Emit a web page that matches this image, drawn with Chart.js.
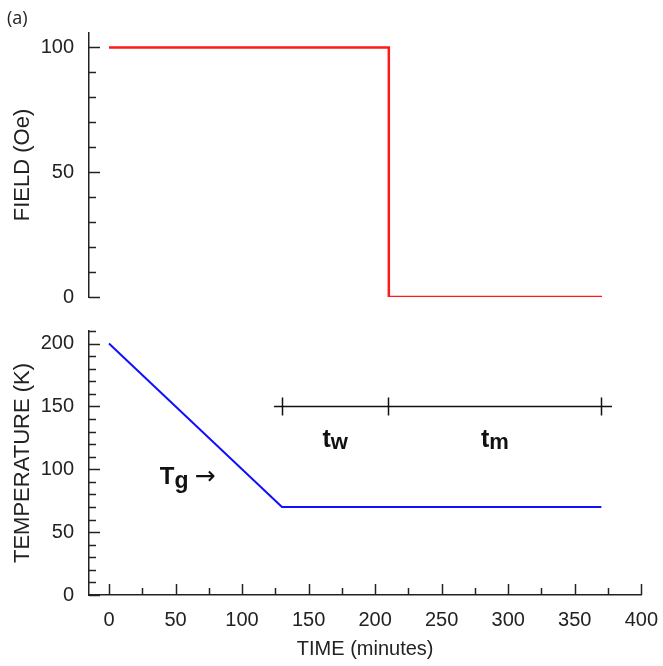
<!DOCTYPE html>
<html>
<head>
<meta charset="utf-8">
<script src="https://cdn.jsdelivr.net/npm/chart.js@4"></script>
<style>
    body { margin: 0; background: #fff; width: 663px; height: 666px; position: relative; overflow: hidden; }
    #topBox { position: absolute; left: 0; top: 0; }
    #bottomBox { position: absolute; left: 0; top: 312px; }
    #panelTag { position: absolute; left: 7px; top: 5px; font: 18px "Open Sans", sans-serif; color: #222; }
</style>
</head>
<body>
<div id="topBox"><canvas id="fieldChart" width="663" height="316"></canvas></div>
<div id="bottomBox"><canvas id="tempChart" width="663" height="354"></canvas></div>
<div id="panelTag">(a)</div>
<script>
// field step: 100 Oe until 210 min, then 0
const fieldTime = [0, 210, 210, 370];
const fieldValues = [100, 100, 0, 0];

// temperature: cool from 200 K to 70 K, then hold
const tempTime = [0, 130, 370];
const tempValues = [200, 70, 70];

const timeTicks = [0, 50, 100, 150, 200, 250, 300, 350, 400];
const fieldTicks = [0, 50, 100];
const tempTicks = [0, 50, 100, 150, 200];

// tw / tm bracket
const bracketTimes = [130, 210, 370];
const bracketSpan = [124, 378];
const bracketLevel = 150;
const bracketLabels = ["w", "m"];

const AXIS = "#222";
const FONT = "'Liberation Sans', Arial, sans-serif";

function inwardTicks(axes) {
    return {
        id: 'inwardTicks',
        afterDraw(chart) {
            const ctx = chart.ctx;
            ctx.save();
            ctx.strokeStyle = AXIS;
            ctx.lineWidth = 1.5;
            axes.forEach(a => {
                const scale = chart.scales[a.id];
                for (let v = a.from; v <= a.to + 1e-6; v += a.step) {
                    const len = a.major.includes(v) ? 11 : 7;
                    const p = Math.round(scale.getPixelForValue(v)) + 0.5;
                    ctx.beginPath();
                    if (scale.isHorizontal()) {
                        ctx.moveTo(p, chart.chartArea.bottom);
                        ctx.lineTo(p, chart.chartArea.bottom - len);
                    } else {
                        ctx.moveTo(chart.chartArea.left, p);
                        ctx.lineTo(chart.chartArea.left + len, p);
                    }
                    ctx.stroke();
                }
            });
            ctx.restore();
        }
    };
}

function subText(ctx, main, sub, cx, baseline, size, subSize, drop) {
    ctx.font = "bold " + size + "px " + FONT;
    const w1 = ctx.measureText(main).width;
    ctx.font = "bold " + subSize + "px " + FONT;
    const w2 = ctx.measureText(sub).width;
    const x0 = cx - (w1 + w2) / 2;
    ctx.font = "bold " + size + "px " + FONT;
    ctx.fillText(main, x0, baseline);
    ctx.font = "bold " + subSize + "px " + FONT;
    ctx.fillText(sub, x0 + w1, baseline + drop);
    return x0 + w1 + w2;
}

const annotations = {
    id: 'annotations',
    afterDraw(chart) {
        const ctx = chart.ctx;
        const x = chart.scales.x, y = chart.scales.y;
        ctx.save();
        ctx.strokeStyle = "#111";
        ctx.lineWidth = 1.5;
        const yb = Math.round(y.getPixelForValue(bracketLevel)) + 0.5;
        ctx.beginPath();
        ctx.moveTo(x.getPixelForValue(bracketSpan[0]), yb);
        ctx.lineTo(x.getPixelForValue(bracketSpan[1]), yb);
        bracketTimes.forEach(t => {
            const px = Math.round(x.getPixelForValue(t)) + 0.5;
            ctx.moveTo(px, yb - 9);
            ctx.lineTo(px, yb + 9);
        });
        ctx.stroke();

        ctx.fillStyle = "#111";
        ctx.textBaseline = "alphabetic";
        ctx.textAlign = "left";
        const base = y.getPixelForValue(118);
        for (let i = 0; i < bracketLabels.length; i++) {
            const mid = (bracketTimes[i] + bracketTimes[i + 1]) / 2;
            subText(ctx, "t", bracketLabels[i], x.getPixelForValue(mid), base, 25, 22, 2);
        }

        // Tg arrow
        const tgBase = y.getPixelForValue(88);
        const end = subText(ctx, "T", "g", x.getPixelForValue(49), tgBase, 24, 23, 4);
        ctx.font = "25px 'DejaVu Sans', sans-serif";
        ctx.fillText("\u2192", end + 6, tgBase);
        ctx.restore();
    }
};

const yTitleFont = { family: FONT, size: 22 };
const tickFont = { family: FONT, size: 20 };

new Chart(document.getElementById("fieldChart"), {
    type: 'scatter',
    data: {
        datasets: [{
            data: fieldTime.map((t, i) => ({ x: t, y: fieldValues[i] })),
            showLine: true,
            borderColor: "#ff1a1a",
            borderWidth: 2.5,
            pointRadius: 0,
            tension: 0
        }]
    },
    options: {
        responsive: false,
        animation: false,
        layout: { padding: { left: 0, right: 21, top: 33, bottom: 8 } },
        plugins: { legend: { display: false }, tooltip: { enabled: false } },
        scales: {
            x: { type: 'linear', min: -15, max: 400, display: false },
            y: {
                type: 'linear', min: 0, max: 105.8,
                afterBuildTicks: s => { s.ticks = fieldTicks.map(v => ({ value: v })); },
                afterFit: s => { s.width = 89; },
                grid: { display: false },
                border: { display: true, color: AXIS, width: 1.5 },
                ticks: { color: "#222", font: tickFont, padding: 7 },
                title: { display: true, text: "FIELD (Oe)", color: "#222", font: yTitleFont, padding: { top: 10, bottom: 0 } }
            }
        }
    },
    plugins: [inwardTicks([{ id: 'y', from: 0, to: 100, step: 10, major: fieldTicks }])]
});

new Chart(document.getElementById("tempChart"), {
    type: 'scatter',
    data: {
        datasets: [{
            data: tempTime.map((t, i) => ({ x: t, y: tempValues[i] })),
            showLine: true,
            borderColor: "#1010ff",
            borderWidth: 2,
            pointRadius: 0,
            tension: 0
        }]
    },
    options: {
        responsive: false,
        animation: false,
        layout: { padding: { left: 0, right: 21, top: 8, bottom: 0 } },
        plugins: { legend: { display: false }, tooltip: { enabled: false } },
        scales: {
            x: {
                type: 'linear', min: -15, max: 400,
                afterBuildTicks: s => { s.ticks = timeTicks.map(v => ({ value: v })); },
                afterFit: s => { s.height = 71; },
                grid: { display: false },
                border: { display: true, color: AXIS, width: 1.5 },
                ticks: { color: "#222", font: tickFont, padding: 5, maxRotation: 0 },
                title: { display: true, text: "TIME (minutes)", color: "#222", font: { family: FONT, size: 20 }, padding: { top: 0, bottom: 5 } }
            },
            y: {
                type: 'linear', min: 0, max: 210,
                afterBuildTicks: s => { s.ticks = tempTicks.map(v => ({ value: v })); },
                afterFit: s => { s.width = 89; },
                grid: { display: false },
                border: { display: true, color: AXIS, width: 1.5 },
                ticks: { color: "#222", font: tickFont, padding: 7 },
                title: { display: true, text: "TEMPERATURE (K)", color: "#222", font: yTitleFont, padding: { top: 10, bottom: 0 } }
            }
        }
    },
    plugins: [
        inwardTicks([
            { id: 'y', from: 0, to: 210, step: 10, major: tempTicks },
            { id: 'x', from: 0, to: 400, step: 25, major: timeTicks }
        ]),
        annotations
    ]
});
</script>
</body>
</html>
